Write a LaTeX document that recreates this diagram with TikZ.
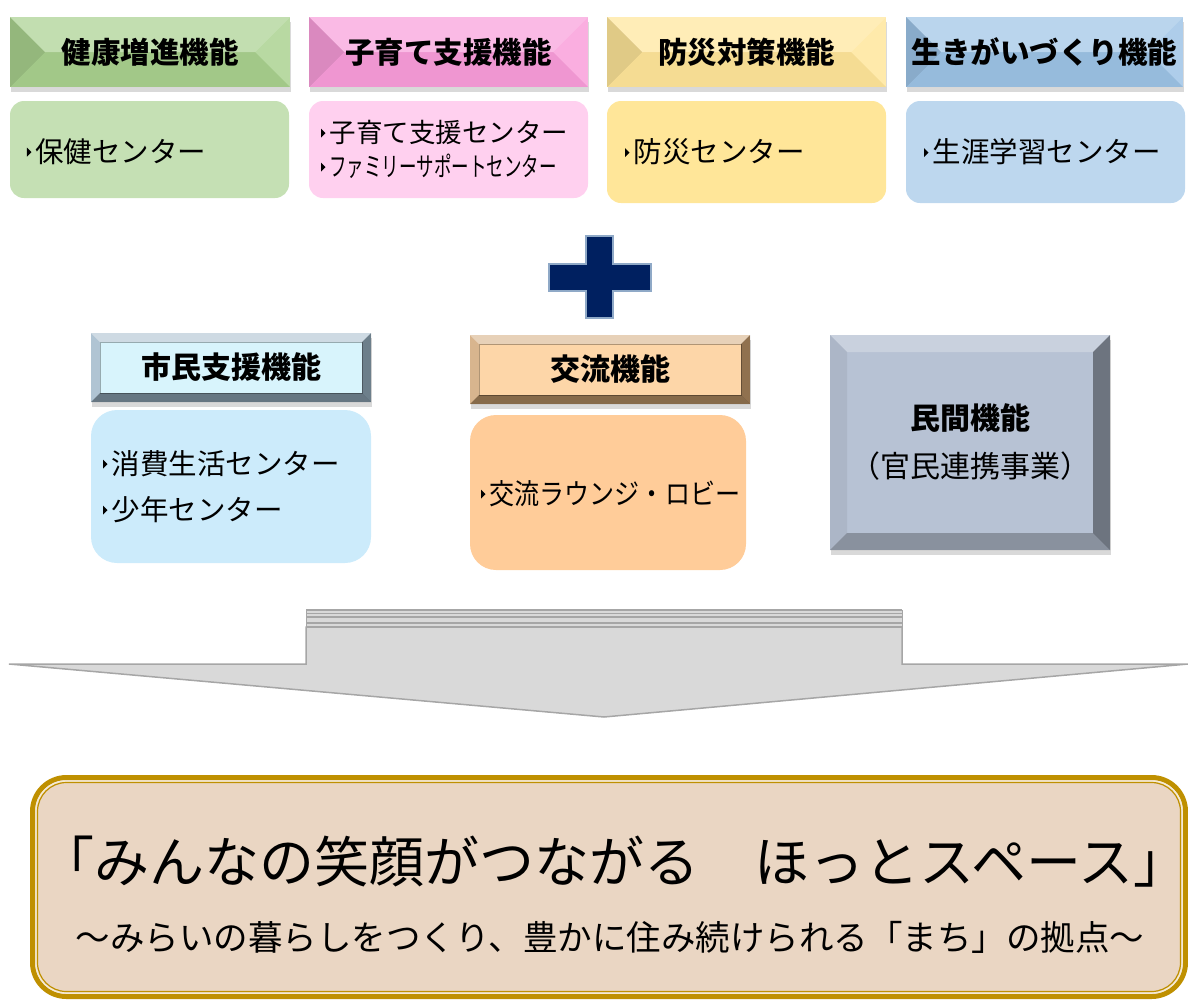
\documentclass[tikz,border=0pt]{standalone}
\usepackage{fontspec}
\setmainfont{Noto Sans CJK JP}
\usetikzlibrary{shadows,calc}
\definecolor{gH}{HTML}{A9D18E}
\definecolor{gC}{HTML}{C5E0B4}
\definecolor{pH}{HTML}{F99DDA}
\definecolor{pC}{HTML}{FFD0EF}
\definecolor{yH}{HTML}{FFE699}
\definecolor{yC}{HTML}{FFE699}
\definecolor{bH}{HTML}{9DC3E6}
\definecolor{bC}{HTML}{BDD7EE}
\definecolor{sF}{HTML}{9DB6C8}
\definecolor{sP}{HTML}{D8F4FC}
\definecolor{sC}{HTML}{CCEBFB}
\definecolor{oF}{HTML}{CFA372}
\definecolor{oP}{HTML}{FDD6A8}
\definecolor{oC}{HTML}{FFCC99}
\definecolor{mF}{HTML}{B7C2D4}
\definecolor{navy}{HTML}{002060}
\definecolor{plusB}{HTML}{8FA9C7}
\definecolor{arrF}{HTML}{D9D9D9}
\definecolor{arrD}{HTML}{A6A6A6}
\definecolor{gold}{HTML}{BF9000}
\definecolor{beige}{HTML}{EAD6C3}
\definecolor{cream}{HTML}{F6EBD3}
\newcommand\bul{\tikz[baseline=-0.36em]\fill (0pt,-4.5pt)--(0pt,4.5pt)--(4.5pt,0pt)--cycle;\hspace{4pt}}
\tikzset{
  hdr/.style={fill=#1, inner sep=0pt, minimum height=70pt,
    font=\bfseries\fontsize{29.5}{34}\selectfont,
    drop shadow={shadow xshift=1pt, shadow yshift=-5pt, opacity=0.3},
    path picture={
      \path (path picture bounding box.north west) coordinate (hnw)
            (path picture bounding box.north east) coordinate (hne)
            (path picture bounding box.south west) coordinate (hsw)
            (path picture bounding box.south east) coordinate (hse);
      \path ($(hnw)!0.5!(hsw)+(35pt,0pt)$) coordinate (hl)
            ($(hne)!0.5!(hse)+(-35pt,0pt)$) coordinate (hr);
      \fill[white,opacity=.3] (hnw)--(hne)--(hr)--(hl)--cycle;
      \fill[black,opacity=.12] (hnw)--(hl)--(hsw)--cycle;
      \fill[white,opacity=.18] (hne)--(hr)--(hse)--cycle;
      \fill[black,opacity=.04] (hsw)--(hl)--(hr)--(hse)--cycle;
    }},
  frhdr/.style 2 args={fill=#1, inner sep=0pt, minimum width=280pt, minimum height=69pt,
    font=\bfseries\fontsize{30}{34}\selectfont,
    drop shadow={shadow xshift=1pt, shadow yshift=-5pt, opacity=0.3},
    path picture={
      \path (path picture bounding box.north west) coordinate (hnw)
            (path picture bounding box.north east) coordinate (hne)
            (path picture bounding box.south west) coordinate (hsw)
            (path picture bounding box.south east) coordinate (hse);
      \path ($(hnw)+(9pt,-9pt)$) coordinate (inw) ($(hne)+(-9pt,-9pt)$) coordinate (ine)
            ($(hsw)+(9pt,9pt)$) coordinate (isw) ($(hse)+(-9pt,9pt)$) coordinate (ise);
      \fill[white,opacity=.5] (hnw)--(hne)--(ine)--(inw)--cycle;
      \fill[white,opacity=.2] (hnw)--(inw)--(isw)--(hsw)--cycle;
      \fill[black,opacity=.3] (hne)--(hse)--(ise)--(ine)--cycle;
      \fill[black,opacity=.35] (hsw)--(isw)--(ise)--(hse)--cycle;
      \fill[#2] (inw) rectangle (ise);
      \draw[black,opacity=.3,line width=1pt] (inw) rectangle (ise);
    }},
  bevbox/.style={fill=#1, inner sep=0pt, minimum width=280pt, minimum height=215pt,
    drop shadow={shadow xshift=1pt, shadow yshift=-5pt, opacity=0.3},
    path picture={
      \path (path picture bounding box.north west) coordinate (hnw)
            (path picture bounding box.north east) coordinate (hne)
            (path picture bounding box.south west) coordinate (hsw)
            (path picture bounding box.south east) coordinate (hse);
      \path ($(hnw)+(17pt,-17pt)$) coordinate (inw) ($(hne)+(-17pt,-17pt)$) coordinate (ine)
            ($(hsw)+(17pt,17pt)$) coordinate (isw) ($(hse)+(-17pt,17pt)$) coordinate (ise);
      \fill[white,opacity=.25] (hnw)--(hne)--(ine)--(inw)--cycle;
      \fill[black,opacity=.06] (hnw)--(inw)--(isw)--(hsw)--cycle;
      \fill[black,opacity=.4] (hne)--(hse)--(ise)--(ine)--cycle;
      \fill[black,opacity=.25] (hsw)--(isw)--(ise)--(hse)--cycle;
    }},
  cnt/.style={fill=#1, inner sep=0pt, rounded corners=14pt},
  txt/.style={inner sep=0pt, anchor=west, align=left, font=\fontsize{28.5}{34}\selectfont}
}
\begin{document}
\begin{tikzpicture}[x=1pt,y=-1pt]
\useasboundingbox (0,0) rectangle (1188,999);

% top headers
\node[hdr=gH, minimum width=280pt] (h1) at (150,52) {健康増進機能};
\node[hdr=pH, minimum width=279pt] (h2) at (448.5,52) {子育て支援機能};
\node[hdr=yH, minimum width=279pt] (h3) at (746.5,52) {防災対策機能};
\node[hdr=bH, minimum width=277pt] (h4) at (1044.5,52) {生きがいづくり機能};

% top contents
\node[cnt=gC, minimum width=279pt, minimum height=97pt] (c1) at (149.5,149.5) {};
\node[cnt=pC, minimum width=279pt, minimum height=97pt] (c2) at (448.5,149.5) {};
\node[cnt=yC, minimum width=279pt, minimum height=102pt] (c3) at (746.5,152) {};
\node[cnt=bC, minimum width=279pt, minimum height=102pt] (c4) at (1045.5,152) {};

\node[txt] (t1) at ($(c1.west)+(17pt,-2pt)$) {\bul 保健センター};
\node[txt, font=\fontsize{26.5}{34}\selectfont] (t2) at ($(c2.west)+(12pt,0pt)$) {\bul 子育て支援センター\\\bul\scalebox{0.66}[1]{ファミリーサポートセンター}};
\node[txt] (t3) at ($(c3.west)+(18pt,0pt)$) {\bul 防災センター};
\node[txt] (t4) at ($(c4.west)+(18pt,0pt)$) {\bul 生涯学習センター};

% plus
\draw[fill=navy, draw=plusB, line width=2pt] (586,236) -- (613,236) -- (613,264) -- (651,264) -- (651,291) -- (613,291) -- (613,318) -- (586,318) -- (586,291) -- (549,291) -- (549,264) -- (586,264) -- cycle;

% second row
\node[frhdr={sF}{sP}] (s1) at (231,367.5) {市民支援機能};
\node[frhdr={oF}{oP}] (s2) at (610,369.5) {交流機能};
\node[bevbox=mF, align=center, font=\fontsize{30}{48}\selectfont] (m) at (970,442.5) {{\bfseries 民間機能}\\（官民連携事業）};

\node[cnt=sC, rounded corners=26pt, minimum width=280pt, minimum height=153pt] (s1c) at (231,486.5) {};
\node[cnt=oC, rounded corners=26pt, minimum width=276pt, minimum height=155pt] (s2c) at (608,492.5) {};
\node[txt, font=\fontsize{28.5}{46}\selectfont] (t5) at ($(s1c.west)+(12pt,0pt)$) {\bul 消費生活センター\\\bul 少年センター};
\node[txt] (t6) at ($(s2c.west)+(11pt,-1pt)$) {\bul\scalebox{0.88}[1]{交流ラウンジ・ロビー}};

% big arrow
\fill[arrF] (306,610) rectangle (902,628);
\draw[arrD, line width=1.2pt] (306,610) -- (902,610) (306,613.5) -- (902,613.5) (306,617) -- (902,617) (306,623) -- (902,623) (306,626.5) -- (902,626.5);
\draw[arrD, line width=0.8pt] (306,610) -- (306,626.5) (902,610) -- (902,626.5);
\draw[fill=arrF, draw=arrD, line width=1.5pt] (306,627) -- (902,627) -- (902,664) -- (1188,664) -- (604,717) -- (9,664) -- (306,664) -- cycle;

% bottom box
\draw[fill=beige, draw=gold, line width=5pt, rounded corners=34pt] (32.5,777.5) rectangle (1185.5,996.5);
\draw[draw=cream, line width=1.5pt, rounded corners=30pt] (36,781) rectangle (1182,993);
\draw[draw=gold, line width=1.2pt, rounded corners=29pt] (37.5,782.5) rectangle (1180.5,991.5);
\node[inner sep=0pt, font=\fontsize{55}{60}\selectfont] (title) at (614,862) {「みんなの笑顔がつながる　ほっとスペース」};
\node[inner sep=0pt, font=\fontsize{34.5}{40}\selectfont] (sub) at (610,937) {〜みらいの暮らしをつくり、豊かに住み続けられる「まち」の拠点〜};
\end{tikzpicture}
\end{document}
